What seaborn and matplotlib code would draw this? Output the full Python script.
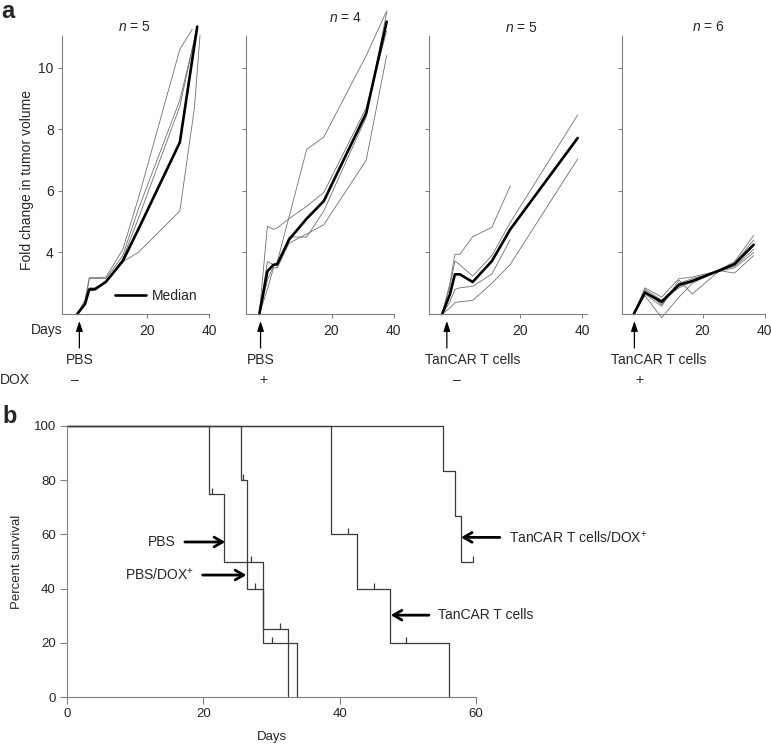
import numpy as np
import pandas as pd
import matplotlib
matplotlib.use("Agg")
import matplotlib.pyplot as plt
import seaborn as sns
from matplotlib.lines import Line2D
from matplotlib import transforms

sns.set_style("ticks")
plt.rcParams["font.family"] = ["Liberation Sans", "DejaVu Sans"]
plt.rcParams["mathtext.fontset"] = "custom"
plt.rcParams["mathtext.rm"] = "Liberation Sans"
plt.rcParams["mathtext.it"] = "Liberation Sans:italic"
plt.rcParams["mathtext.default"] = "regular"

W, H = 771, 746
nan = np.nan

# ---- panel a: tumour growth per mouse (fold change) ----
days_pbs = [-2.5, 0, 1.4, 3.2, 6.8, 12.2, 17.2, 30.6, 34.6, 35.3, 36.2, 37.1]
mice_pbs = {
    "m1": [2.0, 2.45, 3.18, 3.18, 3.2, 4.1, 5.75, 10.6, 11.25, nan, nan, nan],
    "m2": [2.0, 2.3, 2.75, 2.8, 3.05, 3.7, 4.0, 5.35, nan, 8.7, nan, 11.05],
    "m3": [2.0, 2.35, 3.15, 3.15, 3.15, 3.9, 5.4, 8.95, nan, nan, 11.3, nan],
    "m4": [2.0, 2.3, 2.85, 2.85, 3.05, 3.8, 5.1, 8.75, nan, nan, 11.35, nan],
    "m5": [2.0, 2.32, 2.8, 2.8, 3.05, 3.72, 4.75, 7.58, nan, nan, 11.34, nan],
}
med_days_pbs = [-2.5, 0, 1.4, 3.2, 6.8, 12.2, 17.2, 30.6, 36.2]
med_pbs = [2.0, 2.32, 2.8, 2.8, 3.05, 3.72, 4.75, 7.58, 11.34]

days_pbs_dox = [-3.3, -0.7, 1.3, 2.5, 6.3, 12.0, 17.5, 31.2, 37.8]
mice_pbs_dox = {
    "m1": [2.0, 4.85, 4.75, 4.8, 5.1, 5.5, 5.95, 8.7, 11.2],
    "m2": [2.0, 3.1, 3.55, 3.7, nan, 7.35, 7.75, 10.4, 11.85],
    "m3": [2.0, 3.7, 3.6, 3.55, 4.5, 4.5, 5.35, 8.4, 11.8],
    "m4": [2.0, 2.8, 3.5, 3.5, 4.3, 4.6, 4.9, 7.0, 10.4],
}
med_days_pbs_dox = days_pbs_dox
med_pbs_dox = [2.0, 3.39, 3.6, 3.62, 4.42, 5.1, 5.67, 8.53, 11.5]

days_car = [-5.1, -2.6, -1.0, 0.6, 4.7, 10.9, 16.8, 38.5]
mice_car = {
    "m1": [2.0, 3.0, 3.94, 3.94, 4.51, 4.82, 6.16, nan],
    "m2": [2.0, 2.9, 3.72, 3.6, 3.23, 3.9, 4.97, 8.47],
    "m3": [2.0, 2.4, 2.8, 2.85, 2.9, 3.3, 4.42, nan],
    "m4": [2.0, 2.2, 2.37, 2.4, 2.44, 3.0, 3.61, 7.04],
    "m5": [2.0, 2.64, 3.29, 3.29, 3.04, 3.72, 4.75, 7.72],
}
med_days_car = days_car
med_car = [2.0, 2.64, 3.29, 3.29, 3.04, 3.72, 4.75, 7.72]

days_car_dox = [-2.2, 1.4, 6.8, 12.4, 16.7, 24.8, 30.3, 36.5]
mice_car_dox = {
    "m1": [2.0, 2.85, 2.55, 3.15, 3.2, 3.4, 3.7, 4.55],
    "m2": [2.0, 2.75, 2.3, 3.0, 3.15, 3.38, 3.65, 4.4],
    "m3": [2.0, 2.6, 1.88, 2.55, 3.0, 3.4, 3.55, 4.1],
    "m4": [2.0, 2.65, 2.25, 3.1, 2.65, 3.35, 3.6, 4.25],
    "m5": [2.0, 2.8, 2.45, 2.85, 3.05, 3.42, 3.33, 3.9],
    "m6": [2.0, 2.7, 2.35, 2.9, 3.1, 3.38, 3.5, 4.0],
}
med_days_car_dox = days_car_dox
med_car_dox = [2.0, 2.7, 2.4, 2.95, 3.07, 3.39, 3.62, 4.25]

group_n = [5, 4, 5, 6]
treatments = ["PBS", "PBS", "TanCAR T cells", "TanCAR T cells"]
dox_signs = ["\u2013", "+", "\u2013", "+"]
injection_day = [-1.8, -2.9, -3.6, -2.0]

# ---- panel b: survival ----
surv_groups = ["PBS", "PBS/DOX+", "TanCAR", "TanCAR/DOX+"]
surv_days = {
    "PBS": [0, 20.8, 23.1, 28.8, 32.4],
    "PBS/DOX+": [0, 25.5, 26.4, 28.8, 33.7],
    "TanCAR": [0, 38.8, 42.6, 47.4, 56.0],
    "TanCAR/DOX+": [0, 55.2, 56.9, 57.8, 59.6],
}
surv_pct = {
    "PBS": [100, 75, 50, 25, 0],
    "PBS/DOX+": [100, 80, 40, 20, 0],
    "TanCAR": [100, 60, 40, 20, 0],
    "TanCAR/DOX+": [100, 83.3, 66.7, 50, 50],
}
censor_days = [21.2, 27.0, 31.2, 25.8, 27.6, 30.1, 41.2, 45.0, 49.8, 59.6]
censor_pct = [75, 50, 25, 80, 40, 20, 60, 40, 20, 50]


def long_frame(days, mice):
    rows = []
    for name, vals in mice.items():
        for d, v in zip(days, vals):
            if not np.isnan(v):
                rows.append({"mouse": name, "day": d, "fold": v})
    return pd.DataFrame(rows)


AXIS_GREY = "#808080"
THIN_GREY = "#707070"

fig = plt.figure(figsize=(W / 100, H / 100), dpi=100)

panels = [
    (days_pbs, mice_pbs, med_days_pbs, med_pbs),
    (days_pbs_dox, mice_pbs_dox, med_days_pbs_dox, med_pbs_dox),
    (days_car, mice_car, med_days_car, med_car),
    (days_car_dox, mice_car_dox, med_days_car_dox, med_car_dox),
]
ax_px = [(62, 209), (246, 393.5), (428.5, 587), (621.7, 764.5)]
xlims = [(-7.4, 40), (-7.6, 40), (-9.5, 41.5), (-6.1, 40)]
title_day = [16, 24.5, 20.5, 22]
title_y = [26.7, 18.3, 28.3, 26.7]
label_shift = [0, 0, 8.3, 7.8]
sign_shift = [-1.3, 1.0, 3.2, 1.6]
top_px, bot_px = 26, 314

for i, (days, mice, mdays, mvals) in enumerate(panels):
    l, r = ax_px[i]
    ax = fig.add_axes([l / W, 1 - bot_px / H, (r - l) / W, (bot_px - top_px) / H])
    df = long_frame(days, mice)
    sns.lineplot(data=df, x="day", y="fold", units="mouse", estimator=None, sort=False,
                 color=THIN_GREY, lw=0.6, ax=ax, legend=False)
    sns.lineplot(x=mdays, y=mvals, estimator=None, sort=False, color="black", lw=1.9, ax=ax)
    for ln in ax.lines:
        ln.set_clip_on(False)

    ax.set_xlim(*xlims[i])
    ax.set_ylim(2, 11.36)
    ax.spines[["top", "right"]].set_visible(False)
    ax.spines["left"].set_bounds(2, 11.03)
    for s in ("left", "bottom"):
        ax.spines[s].set_color(AXIS_GREY)
        ax.spines[s].set_linewidth(0.8)
    ax.set_xticks([20, 40])
    ax.set_yticks([4, 6, 8, 10])
    if i > 0:
        ax.set_yticklabels([])
    ax.tick_params(axis="both", color=AXIS_GREY, length=3, width=0.8, labelsize=10)
    ax.tick_params(axis="x", pad=4)
    ax.tick_params(axis="y", pad=3)
    ax.set_xlabel("")
    ax.set_ylabel("")

    blend = transforms.blended_transform_factory(ax.transData, fig.transFigure)
    ax.text(title_day[i], 1 - title_y[i] / H, f"$\\mathit{{n}}$ = {group_n[i]}",
            transform=blend, ha="center", va="center", fontsize=10)
    inj = injection_day[i]
    ax.annotate("", xy=(inj, 1 - 321 / H), xytext=(inj, 1 - 348 / H),
                xycoords=blend, textcoords=blend, annotation_clip=False,
                arrowprops=dict(arrowstyle="-|>,head_length=0.6,head_width=0.2",
                                color="black", lw=0.9, shrinkA=0, shrinkB=0))
    ax.text(inj + label_shift[i], 1 - 360 / H, treatments[i], transform=blend,
            ha="center", va="center", fontsize=10)
    ax.text(inj + sign_shift[i], 1 - 380 / H, dox_signs[i], transform=blend,
            ha="center", va="center", fontsize=10)

    if i == 0:
        ax.text(-12.3, 1 - 330 / H, "Days", transform=blend, ha="center", va="center",
                fontsize=10)
        ax.legend(handles=[Line2D([], [], color="black", lw=1.9)], labels=["Median"],
                  loc="center left", bbox_to_anchor=(115 / W, 1 - 296 / H),
                  bbox_transform=fig.transFigure, frameon=False, borderpad=0,
                  borderaxespad=0, handlelength=2.2, handletextpad=0.45, fontsize=10)

fig.text(27 / W, 1 - 180 / H, "Fold change in tumor volume", rotation=90,
         ha="center", va="center", fontsize=10)
fig.text(0 / W, 1 - 380 / H, "DOX", ha="left", va="center", fontsize=10)
fig.text(1 / W, 1 - 18 / H, "a", ha="left", va="baseline", fontsize=17, fontweight="bold")
fig.text(2 / W, 1 - 423 / H, "b", ha="left", va="baseline", fontsize=17, fontweight="bold")

# ---- panel b ----
axb = fig.add_axes([67 / W, 1 - 697 / H, 409 / W, 271 / H])
surv_rows = []
for g in surv_groups:
    for d, p in zip(surv_days[g], surv_pct[g]):
        surv_rows.append({"group": g, "day": d, "pct": p})
surv_df = pd.DataFrame(surv_rows)
sns.lineplot(data=surv_df, x="day", y="pct", units="group", estimator=None, sort=False,
             drawstyle="steps-post", color="#3a3a3a", lw=0.9, ax=axb, legend=False)
axb.plot(censor_days, censor_pct, ls="none", marker=[(0, 0), (0, 1)], markersize=8,
         mec="#3a3a3a", mew=0.9)
for ln in axb.lines:
    ln.set_clip_on(False)

axb.set_xlim(0, 60)
axb.set_ylim(0, 100)
axb.spines[["top", "right"]].set_visible(False)
for s in ("left", "bottom"):
    axb.spines[s].set_color(AXIS_GREY)
    axb.spines[s].set_linewidth(0.8)
axb.set_xticks([0, 20, 40, 60])
axb.set_yticks([0, 20, 40, 60, 80, 100])
axb.tick_params(axis="both", color=AXIS_GREY, length=5, width=0.8, labelsize=9.5, pad=3)
axb.set_xlabel("Days", fontsize=9.5, labelpad=8)
axb.set_ylabel("Percent survival", fontsize=9.5, labelpad=8)

arrow_kw = dict(arrowstyle="->,head_length=0.6,head_width=0.35", lw=2, color="black",
                shrinkA=4, shrinkB=0)
axb.annotate("PBS", xy=(23.2, 57.2), xytext=(16.0, 57.2), ha="right", va="center",
             fontsize=10, arrowprops=arrow_kw, annotation_clip=False)
axb.annotate("PBS/DOX$^{+}$", xy=(26.3, 45), xytext=(18.6, 45), ha="right", va="center",
             fontsize=10, arrowprops=arrow_kw, annotation_clip=False)
axb.annotate("TanCAR T cells", xy=(47.5, 30.2), xytext=(54.4, 30.2), ha="left",
             va="center", fontsize=10, arrowprops=arrow_kw, annotation_clip=False)
axb.annotate("TanCAR T cells/DOX$^{+}$", xy=(57.8, 58.9), xytext=(64.8, 58.9), ha="left",
             va="center", fontsize=10, arrowprops=arrow_kw, annotation_clip=False)

fig.savefig("out.png", dpi=100)
